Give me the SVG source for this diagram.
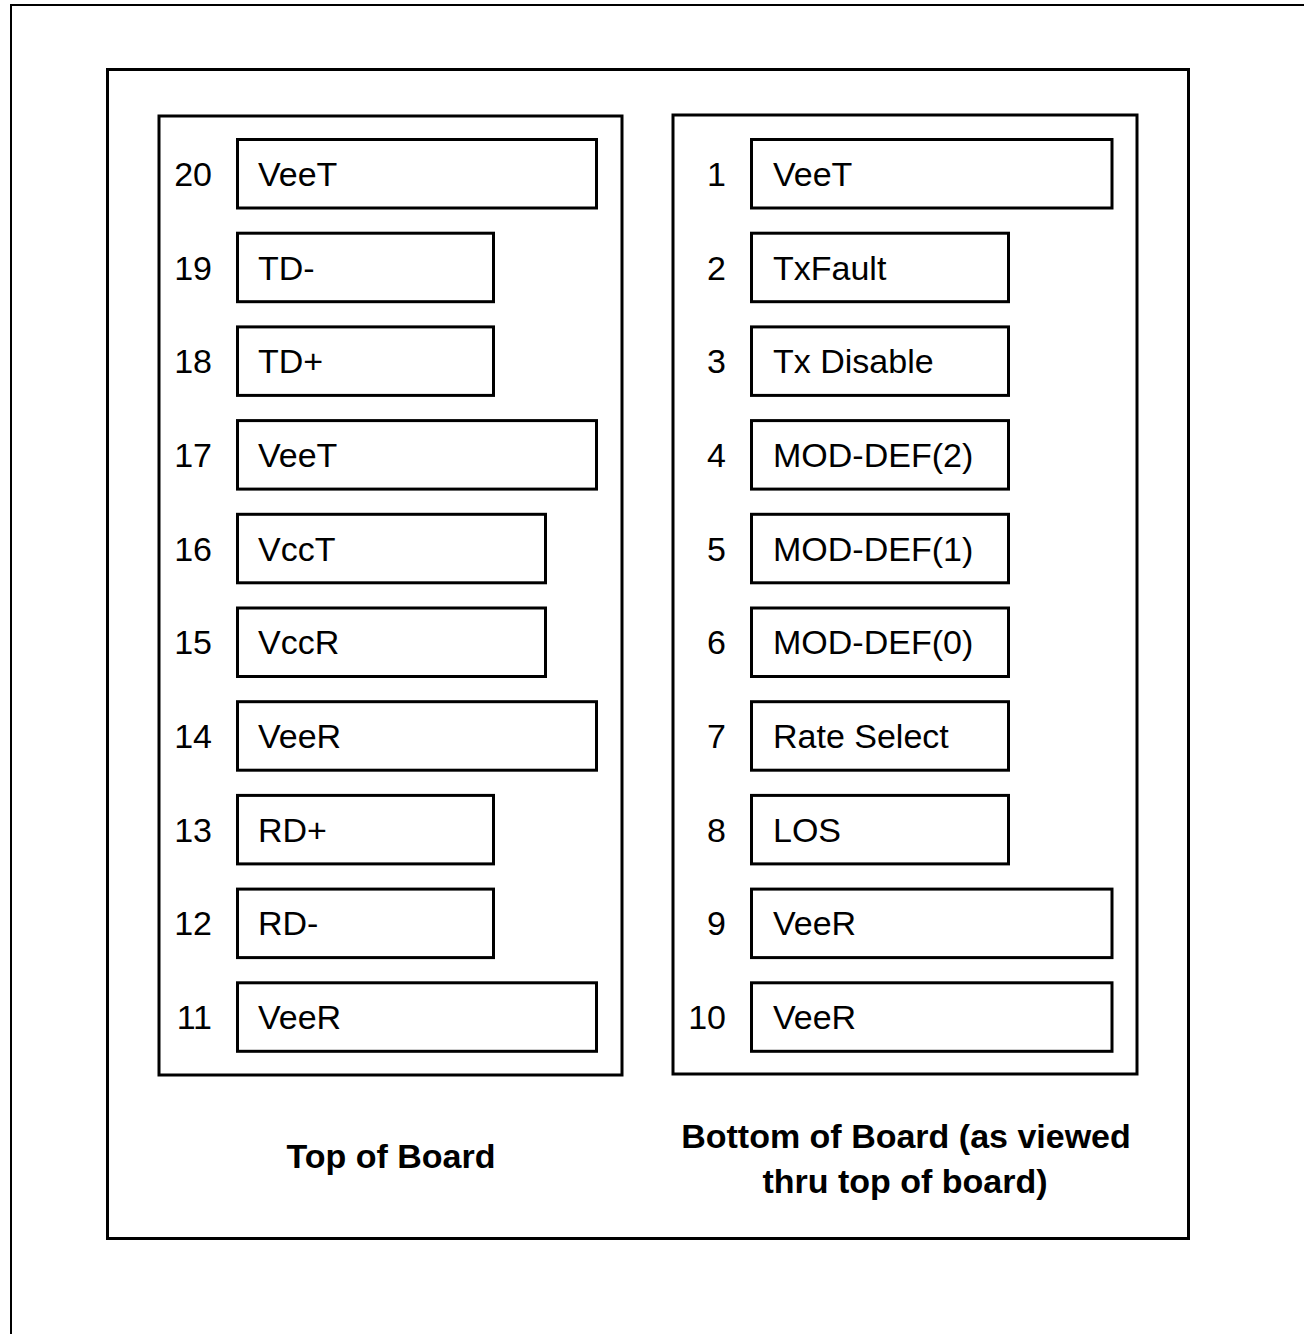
<svg xmlns="http://www.w3.org/2000/svg" width="1304" height="1334" viewBox="0 0 1304 1334">
<style>
.frame{fill:none;stroke:#000;stroke-width:2}
.board{fill:none;stroke:#000;stroke-width:3}
.pin{fill:#fff;stroke:#000;stroke-width:3}
.num{font-family:"Liberation Sans",Arial,sans-serif;font-size:34px;fill:#000;text-anchor:end}
.lbl{font-family:"Liberation Sans",Arial,sans-serif;font-size:34px;fill:#000}
.cap{font-family:"Liberation Sans",Arial,sans-serif;font-size:34px;font-weight:bold;fill:#000;text-anchor:middle}
</style>
<rect width="1304" height="1334" fill="#fff"/>
<path class="frame" d="M11,1334 V5 H1304"/>
<rect class="board" x="107.5" y="69.5" width="1081" height="1169"/>
<g id="top-panel">
<rect class="board" x="159" y="116" width="463" height="959"/>
<text class="cap" x="391" y="1168">Top of Board</text>
</g>
<g id="bottom-panel">
<rect class="board" x="673" y="115" width="464" height="959"/>
<text class="cap" x="906" y="1148">Bottom of Board (as viewed</text>
<text class="cap" x="905" y="1193">thru top of board)</text>
</g>
<g id="pin20"><rect class="pin" x="237.5" y="139.5" width="359" height="68.5"/><text class="num" x="212" y="186">20</text><text class="lbl" x="258" y="186">VeeT</text></g>
<g id="pin19"><rect class="pin" x="237.5" y="233.2" width="256" height="68.5"/><text class="num" x="212" y="280">19</text><text class="lbl" x="258" y="280">TD-</text></g>
<g id="pin18"><rect class="pin" x="237.5" y="326.9" width="256" height="68.5"/><text class="num" x="212" y="373">18</text><text class="lbl" x="258" y="373">TD+</text></g>
<g id="pin17"><rect class="pin" x="237.5" y="420.6" width="359" height="68.5"/><text class="num" x="212" y="467">17</text><text class="lbl" x="258" y="467">VeeT</text></g>
<g id="pin16"><rect class="pin" x="237.5" y="514.3" width="308" height="68.5"/><text class="num" x="212" y="561">16</text><text class="lbl" x="258" y="561">VccT</text></g>
<g id="pin15"><rect class="pin" x="237.5" y="608" width="308" height="68.5"/><text class="num" x="212" y="654">15</text><text class="lbl" x="258" y="654">VccR</text></g>
<g id="pin14"><rect class="pin" x="237.5" y="701.7" width="359" height="68.5"/><text class="num" x="212" y="748">14</text><text class="lbl" x="258" y="748">VeeR</text></g>
<g id="pin13"><rect class="pin" x="237.5" y="795.4" width="256" height="68.5"/><text class="num" x="212" y="842">13</text><text class="lbl" x="258" y="842">RD+</text></g>
<g id="pin12"><rect class="pin" x="237.5" y="889.1" width="256" height="68.5"/><text class="num" x="212" y="935">12</text><text class="lbl" x="258" y="935">RD-</text></g>
<g id="pin11"><rect class="pin" x="237.5" y="982.8" width="359" height="68.5"/><text class="num" x="212" y="1029">11</text><text class="lbl" x="258" y="1029">VeeR</text></g>
<g id="pin1"><rect class="pin" x="751.5" y="139.5" width="360.5" height="68.5"/><text class="num" x="726" y="186">1</text><text class="lbl" x="773" y="186">VeeT</text></g>
<g id="pin2"><rect class="pin" x="751.5" y="233.2" width="257" height="68.5"/><text class="num" x="726" y="280">2</text><text class="lbl" x="773" y="280">TxFault</text></g>
<g id="pin3"><rect class="pin" x="751.5" y="326.9" width="257" height="68.5"/><text class="num" x="726" y="373">3</text><text class="lbl" x="773" y="373">Tx Disable</text></g>
<g id="pin4"><rect class="pin" x="751.5" y="420.6" width="257" height="68.5"/><text class="num" x="726" y="467">4</text><text class="lbl" x="773" y="467">MOD-DEF(2)</text></g>
<g id="pin5"><rect class="pin" x="751.5" y="514.3" width="257" height="68.5"/><text class="num" x="726" y="561">5</text><text class="lbl" x="773" y="561">MOD-DEF(1)</text></g>
<g id="pin6"><rect class="pin" x="751.5" y="608" width="257" height="68.5"/><text class="num" x="726" y="654">6</text><text class="lbl" x="773" y="654">MOD-DEF(0)</text></g>
<g id="pin7"><rect class="pin" x="751.5" y="701.7" width="257" height="68.5"/><text class="num" x="726" y="748">7</text><text class="lbl" x="773" y="748">Rate Select</text></g>
<g id="pin8"><rect class="pin" x="751.5" y="795.4" width="257" height="68.5"/><text class="num" x="726" y="842">8</text><text class="lbl" x="773" y="842">LOS</text></g>
<g id="pin9"><rect class="pin" x="751.5" y="889.1" width="360.5" height="68.5"/><text class="num" x="726" y="935">9</text><text class="lbl" x="773" y="935">VeeR</text></g>
<g id="pin10"><rect class="pin" x="751.5" y="982.8" width="360.5" height="68.5"/><text class="num" x="726" y="1029">10</text><text class="lbl" x="773" y="1029">VeeR</text></g>
<g id="connectors"/>
</svg>
